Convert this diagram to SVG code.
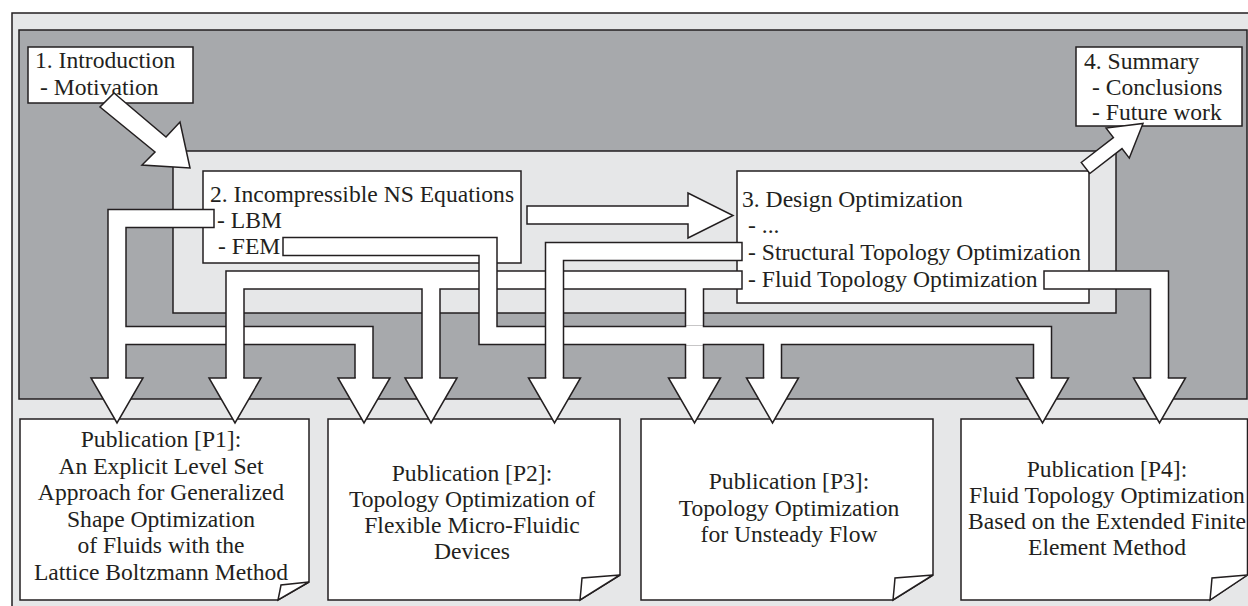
<svg xmlns="http://www.w3.org/2000/svg" xmlns:xlink="http://www.w3.org/1999/xlink" width="1248" height="606" viewBox="0 0 1248 606">
<defs>
<style>
.bx{fill:#fff;stroke:#231f20;stroke-width:1.5}
.lg{fill:#e6e7e8;stroke:#231f20;stroke-width:1.5}
.dg{fill:#a7a9ac;stroke:#231f20;stroke-width:1.5}
.t{font-size:23.6px;fill:#231f20}
.c{text-anchor:middle}
.po{fill:none;stroke:#231f20;stroke-width:19.5;stroke-linejoin:miter}
.pi{fill:none;stroke:#fff;stroke-width:16.5;stroke-linejoin:miter}
.ah{fill:#fff;stroke:#231f20;stroke-width:1.5;stroke-linejoin:miter}
.fa{fill:#fff;stroke:#231f20;stroke-width:1.5;stroke-linejoin:miter}
</style>
<path id="head" class="ah" d="M-8.25,0 H-26 L0,45 L26,0 H8.25"/>
</defs>

<g id="background">
<rect class="lg" x="12" y="13" width="1250" height="600"/>
<rect class="dg" x="19" y="30" width="1228" height="369"/>
<rect class="lg" x="173" y="151" width="943" height="162"/>
</g>

<g font-family="'Liberation Serif', 'DejaVu Serif', 'Noto Serif', serif">
<g id="p1">
<path class="bx" d="M20,419 H309 V582 L278,600 H20 Z"/>
<path class="bx" d="M309,582 L281,585 Q279.5,593 278,600 Z"/>
<text class="t c" x="161"><tspan x="161" y="447">Publication [P1]:</tspan><tspan x="161" y="473.5">An Explicit Level Set</tspan><tspan x="161" y="500">Approach for Generalized</tspan><tspan x="161" y="526.5">Shape Optimization</tspan><tspan x="161" y="553">of Fluids with the</tspan><tspan x="161" y="579.5">Lattice Boltzmann Method</tspan></text>
</g>

<g id="p2">
<path class="bx" d="M328,419 H620 V575 L580,600 H328 Z"/>
<path class="bx" d="M620,575 L582,578 Q581,590 580,600 Z"/>
<text class="t c" x="472"><tspan x="472" y="480.5">Publication [P2]:</tspan><tspan x="472" y="506.5">Topology Optimization of</tspan><tspan x="472" y="532.5">Flexible Micro-Fluidic</tspan><tspan x="472" y="558.5">Devices</tspan></text>
</g>

<g id="p3">
<path class="bx" d="M641,419 H933 V575 L893,600 H641 Z"/>
<path class="bx" d="M933,575 L895,578 Q894,590 893,600 Z"/>
<text class="t c" x="789"><tspan x="789" y="489">Publication [P3]:</tspan><tspan x="789" y="515.5">Topology Optimization</tspan><tspan x="789" y="542">for Unsteady Flow</tspan></text>
</g>

<g id="p4">
<path class="bx" d="M961,419 H1247.5 V575 L1210,600 H961 Z"/>
<path class="bx" d="M1247.5,575 L1212,578 Q1211,590 1210,600 Z"/>
<text class="t c" x="1107"><tspan x="1107" y="476.5">Publication [P4]:</tspan><tspan x="1107" y="502.5">Fluid Topology Optimization</tspan><tspan x="1107" y="529">Based on the Extended Finite</tspan><tspan x="1107" y="555">Element Method</tspan></text>
</g>

<g id="n2">
<rect class="bx" x="203" y="171" width="318" height="92"/>
<text class="t" x="210" y="202">2. Incompressible NS Equations</text>
<text class="t" x="217" y="228">- LBM</text>
<text class="t" x="218" y="254">- FEM</text>
</g>

<g id="n3">
<rect class="bx" x="737" y="171" width="352" height="132"/>
<text class="t" x="742" y="207">3. Design Optimization</text>
<text class="t" x="748" y="233">- ...</text>
<text class="t" x="748" y="260">- Structural Topology Optimization</text>
<text class="t" x="748" y="287">- Fluid Topology Optimization</text>
</g>

<g id="connectors">
<g id="pipe-lbm">
<path class="po" d="M214.75,218.5 H117 V378 M117,335.5 H364 V378"/>
<path class="pi" d="M213.25,218.5 H117 V378 M117,335.5 H364 V378"/>
</g>
<g id="pipe-fluid-left">
<path class="po" d="M742.75,280 H235 V378 M431,280 V378 M694.5,280 V378"/>
<path class="pi" d="M741.25,280 H235 V378 M431,280 V378 M694.5,280 V378"/>
</g>
<g id="pipe-fem">
<path class="po" d="M282.25,246.5 H488 V335.5 H1042.5 V378 M772.5,335.5 V378"/>
<path class="pi" d="M283.75,246.5 H488 V335.5 H1042.5 V378 M772.5,335.5 V378"/>
<rect x="686.25" y="326" width="16.5" height="19" fill="#fff"/>
</g>
<g id="pipe-structural">
<path class="po" d="M742.75,251.5 H554.5 V378"/>
<path class="pi" d="M741.25,251.5 H554.5 V378"/>
</g>
<g id="pipe-fluid-right">
<path class="po" d="M1043.25,280 H1159.5 V378"/>
<path class="pi" d="M1044.75,280 H1159.5 V378"/>
</g>
<g id="heads">
<use xlink:href="#head" transform="translate(117,378)"/>
<use xlink:href="#head" transform="translate(235,378)"/>
<use xlink:href="#head" transform="translate(364,378)"/>
<use xlink:href="#head" transform="translate(431,378)"/>
<use xlink:href="#head" transform="translate(554.5,378)"/>
<use xlink:href="#head" transform="translate(694.5,378)"/>
<use xlink:href="#head" transform="translate(772.5,378)"/>
<use xlink:href="#head" transform="translate(1042.5,378)"/>
<use xlink:href="#head" transform="translate(1159.5,378)"/>
</g>
</g>

<g id="n1">
<rect class="bx" x="28" y="47" width="165" height="56"/>
<text class="t" x="35" y="68">1. Introduction</text>
<text class="t" x="40" y="95">- Motivation</text>
</g>

<g id="n4">
<rect class="bx" x="1076" y="47" width="166" height="79"/>
<text class="t" x="1084" y="69">4. Summary</text>
<text class="t" x="1092" y="95">- Conclusions</text>
<text class="t" x="1092" y="120">- Future work</text>
</g>
</g>

<g id="fat-arrows">
<polygon class="fa" points="114,93 166,137 180,122 190,168 142,165 155,152 100,107"/>
<polygon class="fa" points="527,206 688,206 688,193 733,215.5 688,238 688,224 527,224"/>
<polygon class="fa" points="1081.2,162.5 1113.4,137.6 1106.1,128.1 1143,123.5 1129.3,158.1 1122,148.6 1089.8,173.5"/>
</g>
</svg>
